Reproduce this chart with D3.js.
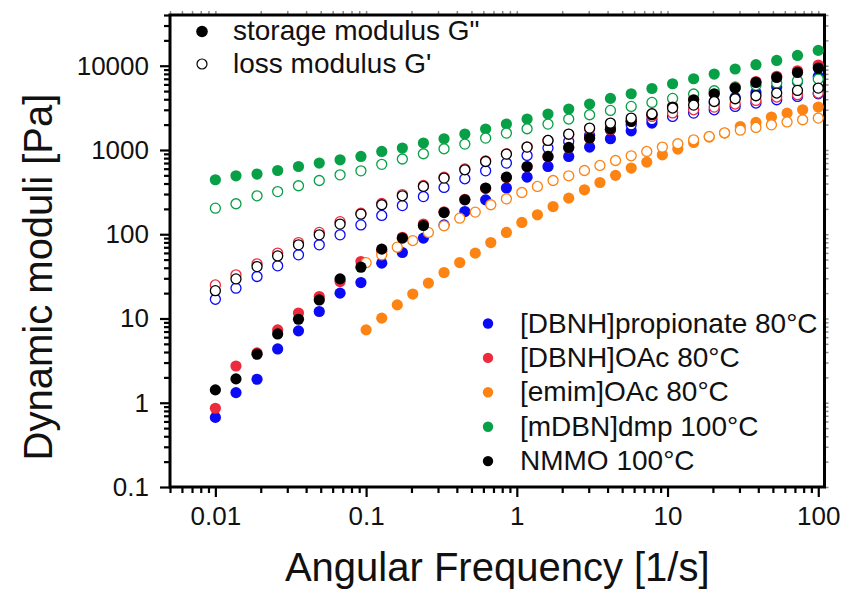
<!DOCTYPE html>
<html>
<head>
<meta charset="utf-8">
<script src="https://cdn.jsdelivr.net/npm/d3@7"></script>
<style>
  html, body { margin: 0; padding: 0; background: #fff; }
  svg { display: block; font-family: "Liberation Sans", Arial, Helvetica, sans-serif; }
</style>
</head>
<body>
<svg id="chart" width="857" height="595"></svg>
<script>
// Angular frequencies of the sweeps (rad/s)
const freq = [0.01, 0.0137, 0.0189, 0.0259, 0.0356, 0.0489, 0.0672, 0.0924, 0.127, 0.174,
              0.240, 0.329, 0.452, 0.621, 0.853, 1.17, 1.61, 2.21, 3.04, 4.18,
              5.74, 7.88, 10.8, 14.9, 20.4, 28.1, 38.6, 53.0, 72.8, 100];
const freqEmim = [0.1, 0.127, 0.161, 0.204, 0.259, 0.329, 0.418, 0.530, 0.672, 0.853,
                  1.08, 1.37, 1.74, 2.21, 2.81, 3.56, 4.52, 5.74, 7.28, 9.24,
                  11.7, 14.9, 18.9, 23.9, 30.4, 38.6, 48.9, 62.1, 78.8, 100];

// Storage modulus (filled symbols), Pa
const storagePropionate = [0.67, 1.32, 1.90, 4.35, 7.13, 12.1, 20.0, 26.7, 45.4, 60.7,
                           90, 129, 186, 256, 353, 476, 637, 838, 1082, 1360,
                           1690, 2085, 2547, 3000, 3606, 4207, 4820, 5580, 6460, 7470];
const storageOAc = [0.86, 2.73, 3.9, 7.33, 11.6, 18.2, 27.4, 47.4, 63, 92,
                    132, 185, 260, 350, 470, 630, 830, 1060, 1380, 1750,
                    2200, 2650, 3300, 4000, 4750, 5600, 6500, 7500, 8700, 10200];
const storageEmim = [7.33, 10.1, 14.5, 19.5, 26.3, 35.1, 46.1, 59.7, 79.7, 105,
                     138, 170, 213, 268, 337, 411, 500, 610, 718, 877,
                     1025, 1227, 1422, 1588, 1901, 2124, 2460, 2740, 3000, 3230];
const storageDmp = [443, 494, 518, 571, 637, 699, 765, 838, 960, 1054,
                    1208, 1358, 1545, 1771, 2031, 2329, 2670, 3061, 3509, 4093,
                    4649, 5370, 6109, 7010, 7967, 9140, 10280, 11560, 13250, 15200];
const storageNMMO = [1.42, 1.92, 3.77, 6.56, 9.8, 16.6, 29.5, 40.6, 66.5, 89.9,
                     127, 181, 256, 353, 476, 637, 838, 1071, 1385, 1780,
                     2180, 2618, 3230, 3944, 4649, 5430, 6335, 7265, 8320, 9390];

// Loss modulus (open symbols), Pa
const lossPropionate = [16.9, 22.9, 31.5, 42.2, 56.9, 74.8, 98.4, 129, 167, 219,
                        280, 359, 455, 566, 699, 861, 1054, 1262, 1487, 1738,
                        1990, 2286, 2500, 2740, 3000, 3290, 3606, 3944, 4325, 4649];
const lossOAc = [25, 33, 44.5, 59.7, 79.7, 105, 141, 178, 232, 296,
                 380, 475, 595, 740, 900, 1090, 1300, 1530, 1780, 1990,
                 2240, 2500, 2750, 3000, 3230, 3510, 3875, 4250, 4530, 4740];
const lossEmim = [46, 57, 70.3, 84.2, 105, 126, 155, 183, 224, 263,
                  313, 369, 434, 494, 571, 655, 750, 853, 960, 1082,
                  1186, 1321, 1446, 1600, 1720, 1850, 1990, 2150, 2286, 2393];
const lossDmp = [204, 230, 286, 321, 376, 434, 507, 566, 676, 782,
                 902, 1033, 1175, 1385, 1588, 1786, 2031, 2329, 2619, 2946,
                 3290, 3666, 4090, 4616, 5050, 5520, 5860, 6230, 6640, 6950];
const lossNMMO = [21.4, 29.5, 41.3, 55.3, 74.8, 98.4, 132, 173, 224, 286,
                  369, 464, 582, 730, 893, 1082, 1297, 1545, 1820, 2085,
                  2393, 2692, 3147, 3414, 3764, 4055, 4400, 4742, 5095, 5430];

const sampleNames = ["[DBNH]propionate 80°C", "[DBNH]OAc 80°C", "[emim]OAc 80°C",
                     "[mDBN]dmp 100°C", "NMMO 100°C"];
const sampleColors = ["#0a0af5", "#ee2b3d", "#fd8312", "#07a046", "#000000"];

const xMajor = [0.01, 0.1, 1, 10, 100];
const xMinor = [0.005, 0.006, 0.007, 0.008, 0.009,
                0.02, 0.03, 0.04, 0.05, 0.06, 0.07, 0.08, 0.09,
                0.2, 0.3, 0.4, 0.5, 0.6, 0.7, 0.8, 0.9,
                2, 3, 4, 5, 6, 7, 8, 9,
                20, 30, 40, 50, 60, 70, 80, 90];
const yMajor = [0.1, 1, 10, 100, 1000, 10000];
const yMinor = [0.2, 0.3, 0.4, 0.5, 0.6, 0.7, 0.8, 0.9,
                2, 3, 4, 5, 6, 7, 8, 9,
                20, 30, 40, 50, 60, 70, 80, 90,
                200, 300, 400, 500, 600, 700, 800, 900,
                2000, 3000, 4000, 5000, 6000, 7000, 8000, 9000,
                20000, 30000, 40000];

const samples = [
  { name: sampleNames[0], color: sampleColors[0], fx: freq,     gs: storagePropionate, gl: lossPropionate },
  { name: sampleNames[1], color: sampleColors[1], fx: freq,     gs: storageOAc,        gl: lossOAc },
  { name: sampleNames[2], color: sampleColors[2], fx: freqEmim, gs: storageEmim,       gl: lossEmim },
  { name: sampleNames[3], color: sampleColors[3], fx: freq,     gs: storageDmp,        gl: lossDmp },
  { name: sampleNames[4], color: sampleColors[4], fx: freq,     gs: storageNMMO,       gl: lossNMMO }
];

const svg = d3.select("#chart");
const plotLeft = 170, plotRight = 824.5, plotTop = 15, plotBottom = 487;

const x = d3.scaleLog().domain([0.005, 110]).range([plotLeft, plotRight]);
const y = d3.scaleLog().domain([0.1, 40000]).range([plotBottom, plotTop]);

const fmt = d => String(d);

// mirrored ticks on top and right edges
svg.append("g").attr("transform", `translate(0,${plotTop})`)
  .call(d3.axisTop(x).tickValues(xMajor.concat(xMinor)).tickSize(4).tickSizeOuter(0).tickFormat(""))
  .call(g => g.select(".domain").remove())
  .call(g => g.selectAll("line").attr("stroke", "#8a8a8a").attr("stroke-width", 1.5));
svg.append("g").attr("transform", `translate(${plotRight},0)`)
  .call(d3.axisRight(y).tickValues(yMajor.concat(yMinor)).tickSize(4).tickSizeOuter(0).tickFormat(""))
  .call(g => g.select(".domain").remove())
  .call(g => g.selectAll("line").attr("stroke", "#8a8a8a").attr("stroke-width", 1.5));

// bottom axis
const gx = svg.append("g").attr("transform", `translate(0,${plotBottom})`);
gx.append("g")
  .call(d3.axisBottom(x).tickValues(xMinor).tickSize(6).tickSizeOuter(0).tickFormat(""))
  .call(g => g.select(".domain").remove());
gx.append("g")
  .call(d3.axisBottom(x).tickValues(xMajor).tickSize(10).tickPadding(10).tickSizeOuter(0).tickFormat(fmt))
  .call(g => g.select(".domain").remove());
gx.selectAll("line").attr("stroke", "#000").attr("stroke-width", 2.2);
gx.selectAll("text").attr("font-size", 26).attr("fill", "#111");
gx.selectAll("g").attr("font-family", null);

// left axis
const gy = svg.append("g").attr("transform", `translate(${plotLeft},0)`);
gy.append("g")
  .call(d3.axisLeft(y).tickValues(yMinor).tickSize(6).tickSizeOuter(0).tickFormat(""))
  .call(g => g.select(".domain").remove());
gy.append("g")
  .call(d3.axisLeft(y).tickValues(yMajor).tickSize(10).tickPadding(11).tickSizeOuter(0).tickFormat(fmt))
  .call(g => g.select(".domain").remove());
gy.selectAll("line").attr("stroke", "#000").attr("stroke-width", 2.2);
gy.selectAll("text").attr("font-size", 26).attr("fill", "#111");
gy.selectAll("g").attr("font-family", null);

// frame
svg.append("rect")
  .attr("x", plotLeft).attr("y", plotTop)
  .attr("width", plotRight - plotLeft).attr("height", plotBottom - plotTop)
  .attr("fill", "none").attr("stroke", "#000").attr("stroke-width", 3);

// data points: filled = storage, open = loss
const plot = svg.append("g");
samples.forEach(s => {
  plot.append("g").selectAll("circle")
    .data(s.fx.map((f, i) => [f, s.gs[i]]))
    .join("circle")
    .attr("cx", d => x(d[0])).attr("cy", d => y(d[1]))
    .attr("r", 5.6).attr("fill", s.color);
  plot.append("g").selectAll("circle")
    .data(s.fx.map((f, i) => [f, s.gl[i]]))
    .join("circle")
    .attr("cx", d => x(d[0])).attr("cy", d => y(d[1]))
    .attr("r", 5).attr("fill", "#fff").attr("stroke", s.color).attr("stroke-width", 1.3);
});

// symbol legend
const symLegend = svg.append("g");
symLegend.append("circle").attr("cx", 202).attr("cy", 31.5).attr("r", 5.8).attr("fill", "#000");
symLegend.append("text").attr("x", 233).attr("y", 40).attr("font-size", 28).attr("fill", "#111")
  .text("storage modulus G\"");
symLegend.append("circle").attr("cx", 202).attr("cy", 64).attr("r", 5).attr("fill", "#fff")
  .attr("stroke", "#000").attr("stroke-width", 1.2);
symLegend.append("text").attr("x", 233).attr("y", 73).attr("font-size", 28).attr("fill", "#111")
  .text("loss modulus G'");

// sample legend
const sampleLegend = svg.append("g").selectAll("g")
  .data(samples)
  .join("g")
  .attr("transform", (d, i) => `translate(488,${323.5 + i * 34.4})`);
sampleLegend.append("circle").attr("r", 5.2).attr("fill", d => d.color);
sampleLegend.append("text").attr("x", 32).attr("y", 9).attr("font-size", 28).attr("fill", "#111")
  .text(d => d.name);

// axis titles
svg.append("text")
  .attr("x", (plotLeft + plotRight) / 2).attr("y", 581)
  .attr("text-anchor", "middle").attr("font-size", 40).attr("fill", "#111")
  .text("Angular Frequency [1/s]");
svg.append("text")
  .attr("transform", `translate(52,${277}) rotate(-90)`)
  .attr("text-anchor", "middle").attr("font-size", 40).attr("fill", "#111")
  .text("Dynamic moduli [Pa]");
</script>
</body>
</html>
